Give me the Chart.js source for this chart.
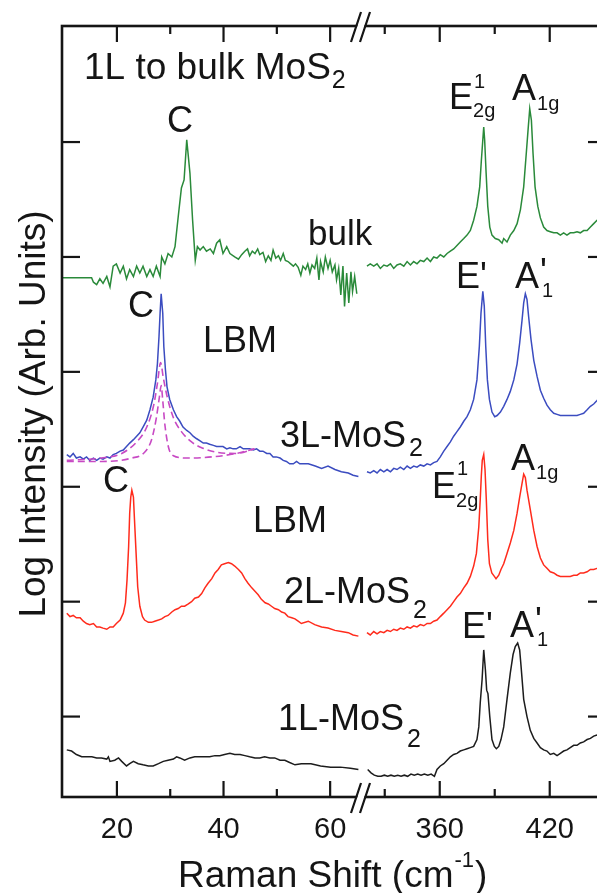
<!DOCTYPE html>
<html>
<head>
<meta charset="utf-8">
<script src="https://cdn.jsdelivr.net/npm/chart.js@4.4.0/dist/chart.umd.min.js"></script>
<style>
  html, body { margin: 0; padding: 0; background: #fff; overflow: hidden; }
  #wrap { width: 597px; height: 893px; overflow: hidden; }
  canvas { display: block; }
</style>
</head>
<body>
<div id="wrap"><canvas id="ramanChart" width="610" height="893"></canvas></div>
<script>
// Raman spectra, [shift (cm-1), log intensity offset]
// bulk (green)
const bulkLow = [[9.8,3.82],[15.25,3.82],[15.6,3.78],[16.2,3.76],[16.8,3.81],[17.4,3.77],[18.1,3.83],[18.7,3.74],[19.3,3.92],[19.9,3.94],[20.6,3.86],[21.2,3.92],[21.8,3.81],[22.4,3.89],[23.1,3.83],[23.7,3.92],[24.3,3.86],[24.9,3.92],[25.6,3.83],[26.2,3.89],[26.8,3.83],[27.4,3.92],[28.1,3.83],[28.4,4.00],[29.0,3.94],[29.6,4.03],[30.3,4.00],[30.9,4.09],[31.5,4.35],[32.1,4.60],[32.6,4.67],[33.1,5.02],[33.7,4.73],[34.2,4.32],[34.7,3.97],[35.1,4.09],[35.6,4.06],[36.2,4.09],[36.8,4.05],[37.5,4.07],[38.1,4.03],[38.7,4.12],[39.3,4.15],[39.9,4.03],[40.6,4.09],[41.2,4.03],
  [42.1,4.00],[42.8,3.98],[43.4,4.02],[44.0,4.05],[44.5,4.07],[44.9,4.01],[45.4,4.05],[45.9,4.03],[46.4,4.07],[46.8,4.02],[47.4,4.04],[47.9,3.96],[48.4,4.01],[48.9,3.97],[49.3,4.06],[49.8,3.99],[50.3,4.01],[50.7,3.97],[51.2,4.03],[51.6,3.97],[52.1,3.96],[52.6,3.94],[53.1,3.92],[53.5,3.94],[54.0,3.91],[54.5,3.84],[54.9,3.92],[55.4,3.89],[55.8,3.94],[56.2,3.86],[56.6,3.93],[57.1,3.90],[57.5,3.99],[57.9,3.80],[58.2,3.96],[58.7,3.87],[59.1,4.00],[59.6,3.90],[60.0,3.97],[60.4,3.87],[60.9,3.93],[61.2,3.80],[61.6,3.90],[62.0,3.67],[62.4,3.92],[62.7,3.57],[63.1,3.86],[63.5,3.60],[63.9,3.87],[64.2,3.70],[64.6,3.83],[65.0,3.68]];
const bulkHigh = [[320.3,3.92],[322.1,3.94],[324.0,3.92],[325.8,3.94],[327.6,3.90],[329.5,3.93],[331.3,3.92],[333.1,3.94],[334.9,3.90],[336.7,3.93],[338.5,3.94],[340.4,3.92],[342.2,3.96],[344.0,3.93],[345.8,3.96],[347.6,3.94],[349.4,3.97],[351.3,3.96],[353.1,3.99],[354.9,3.96],[356.7,4.00],[358.5,3.99],[360.3,4.02],[362.2,4.00],[364.0,4.03],[365.8,4.05],[367.6,4.07],[369.4,4.10],[371.2,4.13],[373.1,4.16],[374.9,4.19],[376.7,4.23],[378.5,4.32],[380.3,4.44],[381.8,4.61],[382.7,4.84],[383.5,5.02],[384.0,5.13],[384.5,5.02],[385.3,4.73],[386.2,4.44],[387.3,4.26],[388.5,4.19],[390.3,4.16],[392.2,4.15],[394.0,4.12],[394.9,4.16],[396.7,4.13],[398.5,4.19],[400.4,4.23],[402.2,4.29],[404.0,4.41],[405.8,4.61],[407.2,4.90],[408.3,5.13],[409.1,5.29],[410.0,5.19],[410.9,4.90],[412.0,4.61],[413.5,4.44],[414.9,4.34],[416.7,4.26],[418.5,4.23],[420.3,4.22],[422.2,4.21],[424.0,4.21],[425.8,4.19],[427.6,4.21],[429.4,4.19],[431.2,4.21],[433.1,4.21],[434.9,4.22],[436.7,4.21],[438.5,4.23],[440.4,4.23],[442.2,4.26],[444.0,4.29],[445.8,4.32],[448.0,4.35],[450.3,4.38]];

// 3L (blue)
const tri_Low = [[10.6,2.28],[11.2,2.26],[11.8,2.29],[12.4,2.25],[13.1,2.26],[13.7,2.24],[14.3,2.26],[14.9,2.23],[15.6,2.25],[16.2,2.23],[16.8,2.25],[17.4,2.24],[18.1,2.26],[18.7,2.25],[19.3,2.28],[19.9,2.29],[20.6,2.31],[21.2,2.32],[21.8,2.35],[22.4,2.38],[23.1,2.41],[23.7,2.44],[24.3,2.47],[24.9,2.52],[25.6,2.58],[26.2,2.67],[26.8,2.78],[27.3,2.93],[27.6,3.07],[27.9,3.31],[28.1,3.51],[28.3,3.68],[28.6,3.51],[28.8,3.22],[29.1,3.02],[29.4,2.87],[29.9,2.76],[30.6,2.67],[31.2,2.61],[31.8,2.57],[32.4,2.52],[33.1,2.49],[33.7,2.47],[34.3,2.44],[34.9,2.42],[35.6,2.40],[36.2,2.38],[36.8,2.38],[37.4,2.37],[38.1,2.36],[38.7,2.35],[39.3,2.35],[39.9,2.35],[40.6,2.33],[41.2,2.34],[41.8,2.33],[42.4,2.33],[43.1,2.35],[43.7,2.33],[44.3,2.33],[44.9,2.33],[45.6,2.32],[46.2,2.33],[46.8,2.31],[47.4,2.31],[48.1,2.29],[48.7,2.29],[49.3,2.26],[49.9,2.26],[50.6,2.25],[51.2,2.23],[51.8,2.22],[52.4,2.20],[53.1,2.20],[53.7,2.22],[54.3,2.20],[55.9,2.20],[57.2,2.18],[58.4,2.16],[59.6,2.18],[60.9,2.15],[62.1,2.13],[63.4,2.12],[64.3,2.10],[65.3,2.09]];
const triHigh = [[320.3,2.13],[322.1,2.12],[324.0,2.14],[325.8,2.12],[327.6,2.15],[329.5,2.13],[331.3,2.15],[333.1,2.13],[334.9,2.16],[336.7,2.15],[338.5,2.17],[340.4,2.15],[342.2,2.18],[344.0,2.16],[345.8,2.18],[347.6,2.17],[349.4,2.19],[351.3,2.18],[353.1,2.20],[354.9,2.19],[356.7,2.21],[358.5,2.22],[360.3,2.26],[362.2,2.31],[364.0,2.35],[365.8,2.39],[367.6,2.44],[369.4,2.48],[371.2,2.52],[373.1,2.57],[374.9,2.61],[376.7,2.67],[378.5,2.76],[380.3,2.93],[381.6,3.22],[382.5,3.51],[383.5,3.70],[384.3,3.57],[385.1,3.22],[386.0,2.93],[387.1,2.76],[388.5,2.65],[390.0,2.61],[391.3,2.62],[393.1,2.65],[394.9,2.70],[396.7,2.76],[398.5,2.83],[400.4,2.93],[402.2,3.07],[403.6,3.25],[404.9,3.45],[405.8,3.60],[406.7,3.68],[407.6,3.63],[408.5,3.48],[409.8,3.28],[411.3,3.10],[413.1,2.96],[414.9,2.84],[416.7,2.77],[418.5,2.71],[420.3,2.67],[422.2,2.64],[424.0,2.63],[425.8,2.62],[427.6,2.62],[429.4,2.62],[431.2,2.62],[433.1,2.62],[434.9,2.62],[436.7,2.63],[438.5,2.64],[440.4,2.67],[442.2,2.70],[444.0,2.72],[445.8,2.75],[448.0,2.79],[450.3,2.83]];
// fitted components of the 3L low-frequency band (dashed)
const triFitWide = [[10.6,2.23],[17.1,2.25],[20.9,2.29],[23.7,2.39],[25.6,2.52],[26.9,2.71],[27.6,2.90],[28.2,3.08],[28.7,2.95],[29.5,2.77],[30.6,2.60],[32.1,2.48],[34.0,2.39],[35.9,2.34],[38.7,2.30],[42.4,2.29],[45.8,2.33]];
const triFitNarrow = [[10.6,2.22],[17.1,2.22],[22.8,2.25],[25.2,2.30],[26.5,2.41],[27.4,2.60],[28.0,2.79],[28.3,2.88],[28.6,2.75],[29.0,2.54],[29.7,2.34],[30.6,2.27],[33.1,2.25],[37.8,2.26],[42.4,2.29],[45.8,2.33]];

// 2L (red)
const biLow = [[10.6,0.90],[11.2,0.87],[11.8,0.88],[12.4,0.86],[13.1,0.86],[13.7,0.83],[14.3,0.81],[14.9,0.80],[15.6,0.81],[16.2,0.78],[16.8,0.78],[17.4,0.77],[18.1,0.76],[18.7,0.78],[19.3,0.78],[19.9,0.81],[20.6,0.84],[21.2,0.90],[21.6,0.99],[21.9,1.19],[22.2,1.48],[22.4,1.77],[22.6,1.91],[22.8,1.97],[23.1,1.91],[23.3,1.71],[23.6,1.42],[23.9,1.13],[24.3,0.96],[24.8,0.87],[25.2,0.84],[25.9,0.82],[26.5,0.82],[27.1,0.83],[27.8,0.84],[28.4,0.85],[29.0,0.87],[29.6,0.88],[30.3,0.91],[30.9,0.93],[31.5,0.94],[32.1,0.96],[32.7,0.96],[33.4,0.98],[34.0,1.00],[34.6,1.03],[35.3,1.04],[35.9,1.07],[36.5,1.12],[37.1,1.16],[37.8,1.20],[38.4,1.25],[39.0,1.28],[39.6,1.32],[40.2,1.33],[40.9,1.34],[41.5,1.33],[42.1,1.31],[42.8,1.28],[43.4,1.25],[44.0,1.20],[44.6,1.16],[45.3,1.12],[45.9,1.09],[46.5,1.06],[47.1,1.02],[47.8,0.99],[48.4,0.98],[49.0,0.96],[49.6,0.94],[50.3,0.93],[50.9,0.91],[51.5,0.90],[52.1,0.87],[52.8,0.86],[53.4,0.85],[54.0,0.83],[54.6,0.81],[55.9,0.83],[57.1,0.80],[58.4,0.78],[59.6,0.77],[60.9,0.75],[62.1,0.74],[63.4,0.73],[64.3,0.71],[65.3,0.70]];
const biHigh = [[320.3,0.73],[322.1,0.71],[324.0,0.74],[325.8,0.72],[327.6,0.74],[329.5,0.73],[331.3,0.75],[333.1,0.74],[334.9,0.76],[336.7,0.75],[338.5,0.77],[340.4,0.76],[342.2,0.78],[344.0,0.77],[345.8,0.79],[347.6,0.78],[349.4,0.80],[351.3,0.79],[353.1,0.81],[354.9,0.81],[356.7,0.83],[358.5,0.84],[360.3,0.87],[362.2,0.90],[364.0,0.93],[365.8,0.96],[367.6,1.00],[369.4,1.04],[371.2,1.07],[373.1,1.12],[374.9,1.16],[376.7,1.22],[378.5,1.31],[380.0,1.42],[381.3,1.65],[382.1,1.89],[382.7,2.10],[383.2,2.23],[384.0,2.28],[384.7,2.15],[385.4,1.89],[386.2,1.54],[387.1,1.33],[388.4,1.25],[389.8,1.22],[390.7,1.20],[392.2,1.23],[393.4,1.28],[394.9,1.33],[396.7,1.42],[398.5,1.51],[400.4,1.62],[402.2,1.77],[403.6,1.91],[404.9,2.03],[405.8,2.11],[406.7,2.08],[407.6,1.97],[409.4,1.80],[411.3,1.62],[413.1,1.48],[414.9,1.38],[416.7,1.32],[418.5,1.29],[420.3,1.26],[422.2,1.25],[424.0,1.23],[425.8,1.22],[427.6,1.22],[429.4,1.22],[431.2,1.22],[433.1,1.23],[434.9,1.23],[436.7,1.25],[438.5,1.25],[440.4,1.26],[442.2,1.28],[444.0,1.28],[445.8,1.29],[448.0,1.30],[450.3,1.31]];

// 1L (black)
const monoLow = [[10.6,-0.29],[11.5,-0.30],[12.4,-0.33],[13.4,-0.35],[14.3,-0.35],[15.3,-0.35],[16.2,-0.36],[17.1,-0.36],[18.1,-0.37],[18.4,-0.35],[18.7,-0.39],[19.6,-0.38],[20.3,-0.36],[20.9,-0.39],[21.8,-0.43],[22.4,-0.41],[23.1,-0.39],[24.0,-0.41],[24.9,-0.42],[25.9,-0.43],[26.8,-0.43],[27.8,-0.41],[28.7,-0.39],[29.6,-0.38],[30.6,-0.37],[31.2,-0.35],[31.8,-0.36],[32.7,-0.38],[33.7,-0.36],[34.6,-0.35],[35.6,-0.35],[36.5,-0.35],[37.4,-0.35],[38.4,-0.34],[39.3,-0.34],[40.2,-0.33],[41.2,-0.32],[42.1,-0.33],[43.1,-0.33],[44.0,-0.34],[44.9,-0.35],[45.9,-0.36],[46.8,-0.36],[47.7,-0.35],[48.7,-0.36],[49.6,-0.36],[50.6,-0.38],[51.5,-0.38],[52.4,-0.40],[53.4,-0.42],[54.6,-0.41],[56.4,-0.41],[58.2,-0.43],[60.1,-0.44],[61.9,-0.44],[63.8,-0.45],[65.3,-0.46]];
const monoHigh = [[320.7,-0.46],[322.5,-0.49],[324.3,-0.51],[326.2,-0.52],[328.0,-0.52],[329.8,-0.51],[331.6,-0.52],[333.4,-0.51],[335.2,-0.52],[337.1,-0.51],[338.9,-0.52],[340.7,-0.51],[342.5,-0.52],[344.3,-0.50],[346.1,-0.51],[348.0,-0.50],[349.8,-0.51],[351.6,-0.50],[353.5,-0.51],[355.3,-0.50],[357.1,-0.52],[358.5,-0.46],[360.3,-0.43],[362.2,-0.41],[364.0,-0.38],[365.8,-0.35],[367.6,-0.33],[369.4,-0.32],[371.2,-0.30],[373.1,-0.29],[374.9,-0.28],[376.7,-0.27],[378.5,-0.26],[380.3,-0.20],[381.3,-0.09],[382.1,0.12],[383.1,0.32],[384.0,0.58],[384.9,0.41],[385.6,0.23],[386.3,0.20],[387.3,0.00],[388.5,-0.20],[389.8,-0.26],[390.9,-0.28],[392.2,-0.26],[393.4,-0.20],[394.9,-0.09],[396.7,0.15],[398.5,0.38],[400.0,0.54],[401.2,0.61],[402.5,0.64],[403.6,0.58],[404.3,0.45],[405.8,0.15],[407.6,0.00],[409.4,-0.12],[411.3,-0.19],[413.1,-0.23],[414.9,-0.27],[416.7,-0.29],[418.5,-0.30],[420.3,-0.33],[422.2,-0.32],[424.0,-0.34],[425.8,-0.32],[427.6,-0.30],[429.4,-0.29],[431.2,-0.27],[433.1,-0.25],[434.9,-0.25],[436.7,-0.23],[438.5,-0.22],[440.4,-0.20],[442.2,-0.19],[444.0,-0.17],[445.8,-0.16],[448.0,-0.14],[450.3,-0.12]];

// axis ticks
const lowMajor = [20, 40, 60];
const lowMinor = [30, 50];
const highMajor = [360, 420];
const highMinor = [330, 390, 450];
const yTicks = [0, 1, 2, 3, 4, 5];

const FONT = '"Liberation Sans", Arial, Helvetica, sans-serif';

function toXY(arr) {
  return arr.map(p => ({ x: p[0], y: p[1] }));
}

function trace(arr, axis, color) {
  return {
    data: toXY(arr),
    xAxisID: axis,
    yAxisID: 'y',
    borderColor: color,
    borderWidth: 1.5,
    pointRadius: 0,
    tension: 0,
    fill: false
  };
}

function fitLine(arr) {
  return {
    data: toXY(arr),
    xAxisID: 'xL',
    yAxisID: 'y',
    borderColor: '#c84ac4',
    borderWidth: 1.6,
    borderDash: [7, 4],
    pointRadius: 0,
    cubicInterpolationMode: 'monotone',
    fill: false
  };
}

const decor = {
  id: 'decor',
  afterDraw(chart) {
    const { ctx, chartArea: a, scales } = chart;
    const xL = scales.xL, xR = scales.xR, y = scales.y;
    const seg = (x1, y1, x2, y2) => { ctx.beginPath(); ctx.moveTo(x1, y1); ctx.lineTo(x2, y2); ctx.stroke(); };
    const put = (t, x, yy, size) => {
      ctx.font = size + 'px ' + FONT;
      ctx.fillText(t, x, yy);
      return x + ctx.measureText(t).width;
    };
    ctx.save();
    ctx.strokeStyle = '#151515';
    ctx.fillStyle = '#151515';

    // frame
    ctx.lineWidth = 2.6;
    ctx.strokeRect(a.left, a.top, a.right - a.left, a.bottom - a.top);

    // inward ticks
    ctx.lineWidth = 2.2;
    const xTick = (px, len) => { seg(px, a.bottom, px, a.bottom - len); seg(px, a.top, px, a.top + len); };
    lowMajor.forEach(v => xTick(xL.getPixelForValue(v), 16));
    lowMinor.forEach(v => xTick(xL.getPixelForValue(v), 8));
    highMajor.forEach(v => xTick(xR.getPixelForValue(v), 16));
    highMinor.forEach(v => xTick(xR.getPixelForValue(v), 8));
    yTicks.forEach(v => {
      const py = y.getPixelForValue(v);
      seg(a.left, py, a.left + 18, py);
      seg(a.right, py, a.right - 18, py);
    });

    // axis break marks
    const bx = xL.right;
    [a.top, a.bottom].forEach(by => {
      ctx.fillStyle = '#fff';
      ctx.beginPath();
      ctx.moveTo(bx - 8, by + 16); ctx.lineTo(bx + 2, by - 14);
      ctx.lineTo(bx + 9, by - 14); ctx.lineTo(bx - 1, by + 16);
      ctx.closePath(); ctx.fill();
      seg(bx - 9, by + 16, bx + 1, by - 14);
      seg(bx, by + 16, bx + 10, by - 14);
    });
    ctx.fillStyle = '#151515';

    // tick labels
    ctx.textAlign = 'center';
    lowMajor.forEach(v => put(String(v), xL.getPixelForValue(v), 838, 29));
    highMajor.forEach(v => put(String(v), xR.getPixelForValue(v), 838, 29));
    ctx.textAlign = 'left';

    // axis titles
    let e = put('Raman Shift (cm', 178, 887, 37);
    e = put('-1', e + 1, 867, 22);
    put(')', e + 1, 887, 37);
    ctx.save();
    ctx.translate(45, 414);
    ctx.rotate(-Math.PI / 2);
    ctx.textAlign = 'center';
    put('Log Intensity (Arb. Units)', 0, 0, 37);
    ctx.restore();

    // annotations
    e = put('1L to bulk MoS', 84, 79, 37);
    put('2', e + 1, 88, 25);
    put('C', 167, 132, 36);
    put('bulk', 308, 245, 35);
    e = put('E', 449, 109, 36);
    put('1', e + 1, 88, 20); put('2g', e, 117, 20);
    e = put('A', 512, 100, 36);
    put('1g', e + 1, 110, 20);

    put('C', 128, 317, 36);
    put('LBM', 203, 352, 36);
    put("E'", 456, 288, 36);
    e = put('A', 515, 288, 36);
    put("'", e + 1, 284, 36); put('1', e + 3, 297, 20);
    e = put('3L-MoS', 280, 447, 36);
    put('2', e + 3, 456, 25);

    put('C', 103, 492, 36);
    put('LBM', 253, 532, 36);
    e = put('E', 432, 498, 36);
    put('1', e + 1, 475, 20); put('2g', e, 507, 20);
    e = put('A', 511, 470, 36);
    put('1g', e + 1, 479, 20);
    e = put('2L-MoS', 284, 603, 36);
    put('2', e + 3, 618, 25);

    put("E'", 462, 638, 36);
    e = put('A', 510, 637, 36);
    put("'", e + 1, 633, 36); put('1', e + 3, 646, 20);
    e = put('1L-MoS', 278, 730, 36);
    put('2', e + 3, 747, 25);

    ctx.restore();
  }
};

new Chart(document.getElementById('ramanChart'), {
  type: 'line',
  data: {
    datasets: [
      trace(bulkLow, 'xL', '#2a8a3a'),
      trace(bulkHigh, 'xR', '#2a8a3a'),
      fitLine(triFitWide),
      fitLine(triFitNarrow),
      trace(tri_Low, 'xL', '#3b4cc0'),
      trace(triHigh, 'xR', '#3b4cc0'),
      trace(biLow, 'xL', '#ff2b1c'),
      trace(biHigh, 'xR', '#ff2b1c'),
      trace(monoLow, 'xL', '#1c1c1c'),
      trace(monoHigh, 'xR', '#1c1c1c')
    ]
  },
  options: {
    responsive: false,
    animation: false,
    events: [],
    layout: { padding: { left: 0, top: 26, right: 4, bottom: 0 } },
    plugins: { legend: { display: false }, tooltip: { enabled: false } },
    scales: {
      xL: {
        type: 'linear', position: 'bottom', stack: 'raman', stackWeight: 298,
        min: 9.7, max: 65.6,
        grid: { display: false, drawTicks: false }, border: { display: false },
        ticks: { display: false },
        afterFit: s => { s.height = 96; }
      },
      xR: {
        type: 'linear', position: 'bottom', stack: 'raman', stackWeight: 246,
        min: 316.5, max: 450.7,
        grid: { display: false, drawTicks: false }, border: { display: false },
        ticks: { display: false },
        afterFit: s => { s.height = 96; }
      },
      y: {
        type: 'linear', position: 'left', min: -0.7, max: 6.01,
        grid: { display: false, drawTicks: false }, border: { display: false },
        ticks: { display: false },
        afterFit: s => { s.width = 62; }
      }
    }
  },
  plugins: [decor]
});
</script>
</body>
</html>
